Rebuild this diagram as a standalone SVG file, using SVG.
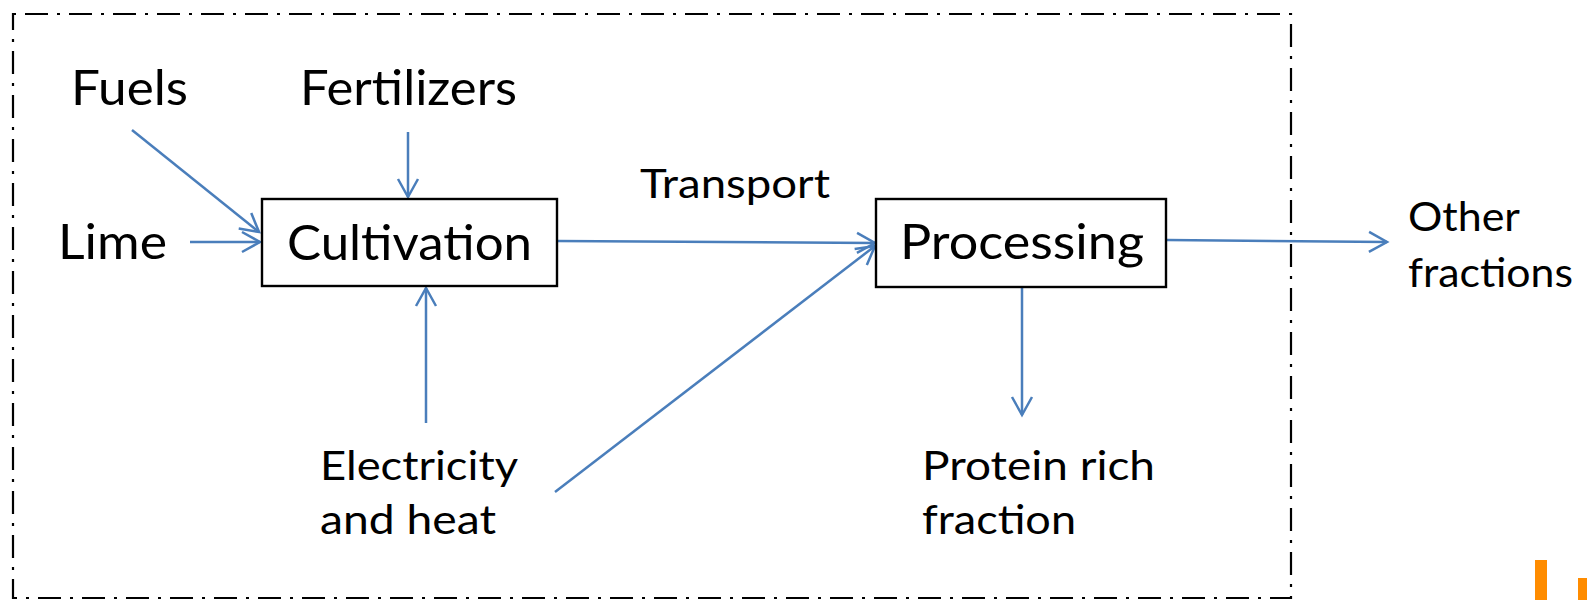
<svg xmlns="http://www.w3.org/2000/svg" width="1587" height="600" viewBox="0 0 1587 600">
<style>
text{font-family:Lato,"Open Sans","Liberation Sans",sans-serif;fill:#000}
.big{font-size:48px}
.small{font-size:41px}
.box{fill:#fff;stroke:#000;stroke-width:2.4}
.conn{stroke:#4A7EBB;stroke-width:2.5;fill:none;marker-end:url(#arr)}
.border{fill:none;stroke:#000;stroke-width:2.2;stroke-dasharray:3 9 23 9}
</style>
<defs>
<marker id="arr" markerUnits="userSpaceOnUse" viewBox="-22 -13 26 26" markerWidth="26" markerHeight="26" refX="0" refY="0" orient="auto">
<path d="M-18,-10 L0,0 L-18,10" fill="none" stroke="#4A7EBB" stroke-width="2.5" stroke-linejoin="miter"/>
</marker>
</defs>
<rect fill="#fff" x="0" y="0" width="1587" height="600"/>
<rect class="border" x="13" y="14" width="1278" height="584"/>
<g id="connectors">
<line class="conn" x1="132" y1="130" x2="259" y2="232"/>
<line class="conn" x1="408" y1="132" x2="408" y2="197"/>
<line class="conn" x1="190" y1="242" x2="260" y2="242"/>
<line class="conn" x1="426" y1="423" x2="426" y2="288"/>
<line class="conn" x1="557" y1="241" x2="875" y2="243"/>
<line class="conn" x1="555" y1="492" x2="875" y2="246"/>
<line class="conn" x1="1167" y1="240" x2="1387" y2="242"/>
<line class="conn" x1="1022" y1="287" x2="1022" y2="415"/>
</g>
<g id="fuels"><text class="big" x="71" y="105" textLength="117" lengthAdjust="spacingAndGlyphs">Fuels</text></g>
<g id="fertilizers"><text class="big" x="300" y="105" textLength="217" lengthAdjust="spacingAndGlyphs">Fertilizers</text></g>
<g id="lime"><text class="big" x="58" y="259" textLength="109" lengthAdjust="spacingAndGlyphs">Lime</text></g>
<g id="cultivation">
<rect class="box" x="262" y="199" width="295" height="87"/>
<text class="big" x="287" y="260" textLength="245" lengthAdjust="spacingAndGlyphs">Cultivation</text>
</g>
<g id="transport"><text class="small" x="640" y="198" textLength="190" lengthAdjust="spacingAndGlyphs">Transport</text></g>
<g id="processing">
<rect class="box" x="876" y="199" width="290" height="88"/>
<text class="big" x="900" y="259" textLength="244" lengthAdjust="spacingAndGlyphs">Processing</text>
</g>
<g id="other">
<text class="small" x="1408" y="231" textLength="112" lengthAdjust="spacingAndGlyphs">Other</text>
<text class="small" x="1408" y="287" textLength="165" lengthAdjust="spacingAndGlyphs">fractions</text>
</g>
<g id="electricity">
<text class="small" x="320" y="480" textLength="198" lengthAdjust="spacingAndGlyphs">Electricity</text>
<text class="small" x="320" y="534" textLength="176" lengthAdjust="spacingAndGlyphs">and heat</text>
</g>
<g id="protein">
<text class="small" x="922" y="480" textLength="233" lengthAdjust="spacingAndGlyphs">Protein rich</text>
<text class="small" x="922" y="534" textLength="154" lengthAdjust="spacingAndGlyphs">fraction</text>
</g>
<g id="logo">
<rect x="1535" y="560" width="12" height="40" fill="#FF8C00"/>
<rect x="1578" y="578" width="9" height="22" fill="#FF8C00"/>
</g>
</svg>
